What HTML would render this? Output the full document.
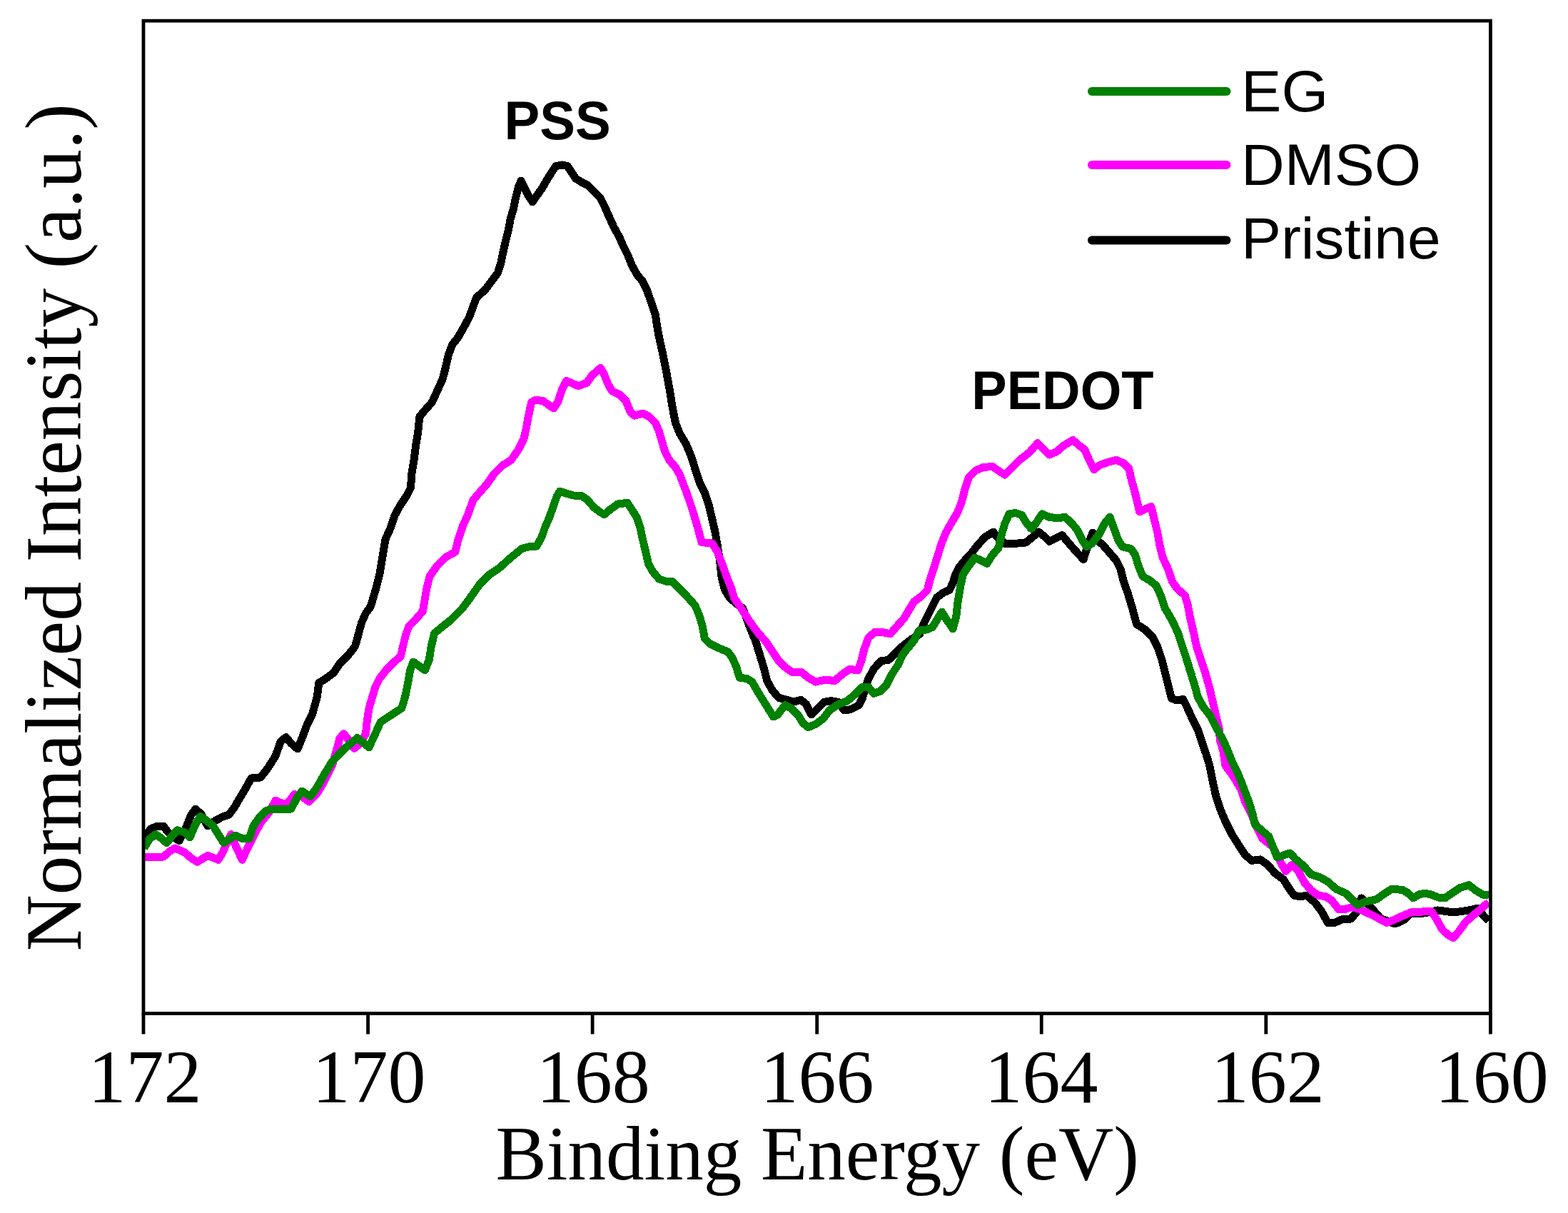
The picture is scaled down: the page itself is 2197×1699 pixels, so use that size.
<!DOCTYPE html>
<html><head><meta charset="utf-8"><title>XPS S 2p spectra</title>
<style>html,body{margin:0;padding:0;background:#fff;}svg{display:block;}</style>
</head><body>
<svg width="2197" height="1699" viewBox="0 0 2197 1699">
<rect x="0" y="0" width="2197" height="1699" fill="#fff"/>
<defs><clipPath id="pa"><rect x="201" y="29" width="1887.4" height="1390.5"/></clipPath></defs>
<g clip-path="url(#pa)" fill="none" stroke-linejoin="round" stroke-linecap="butt" stroke-width="11" shape-rendering="crispEdges">
<polyline stroke="#000" points="201.7,1173.0 211.3,1161.0 220.2,1157.0 229.0,1157.0 234.0,1164.0 242.0,1172.0 251.0,1177.6 261.6,1157.0 267.5,1142.0 274.0,1133.0 282.0,1140.6 291.0,1157.0 301.6,1149.5 312.0,1144.0 320.8,1141.0 328.0,1131.7 335.6,1118.4 344.5,1103.6 352.0,1090.0 365.0,1089.0 375.6,1075.5 386.0,1059.0 393.3,1038.5 400.7,1032.6 408.0,1041.4 417.0,1049.0 423.7,1032.6 430.3,1014.8 437.7,1000.0 444.4,975.8 446.7,956.6 456.3,950.6 468.0,941.8 475.5,930.0 488.8,916.6 497.7,904.8 502.2,888.5 506.6,872.2 512.5,858.9 519.2,850.0 526.6,825.0 531.8,804.3 536.3,777.6 540.0,755.4 547.4,739.1 553.3,721.4 560.7,708.0 569.6,694.7 575.5,682.9 577.0,662.2 580.0,644.4 582.9,622.2 585.8,604.4 587.8,583.9 593.7,576.5 605.5,563.1 612.9,546.9 620.3,530.6 624.8,512.8 628.5,496.5 633.6,483.2 642.5,471.4 650.0,458.0 657.3,444.7 663.3,428.4 667.7,416.6 679.5,406.2 688.4,394.4 697.3,382.6 701.7,369.2 704.8,354.0 707.8,340.6 712.2,322.9 715.2,306.6 719.6,291.8 722.6,277.0 726.3,262.2 730.0,253.3 734.4,262.2 740.3,274.0 746.2,282.9 752.2,274.0 759.6,263.6 765.5,253.3 772.9,241.4 778.8,232.6 787.7,231.0 795.1,232.6 801.0,241.4 806.9,250.3 814.3,254.8 823.2,259.2 832.1,268.1 841.0,277.0 846.9,288.8 852.8,302.1 860.2,318.4 867.6,331.7 873.5,345.0 879.5,356.9 885.4,371.7 892.8,385.0 900.2,393.9 906.1,405.7 912.0,422.0 918.0,439.8 922.9,469.6 928.8,496.2 934.0,522.9 938.4,546.6 942.1,570.3 946.5,592.5 952.5,607.3 961.3,622.0 968.7,639.8 974.7,659.0 980.6,676.8 987.4,690.0 993.3,707.8 997.8,727.0 1002.2,746.2 1005.2,764.0 1008.1,781.8 1011.1,808.4 1015.5,826.2 1022.9,838.0 1031.8,845.4 1040.7,852.0 1051.1,879.6 1058.5,897.4 1064.4,916.6 1070.3,935.8 1074.8,953.6 1082.2,967.0 1091.0,977.3 1102.9,980.3 1111.8,983.2 1122.1,980.3 1129.5,986.2 1136.9,1001.0 1145.8,992.1 1154.7,983.2 1165.0,981.7 1174.0,983.2 1182.8,995.0 1191.7,993.6 1203.5,987.7 1208.0,978.8 1212.4,964.0 1216.9,950.6 1224.3,937.0 1234.3,925.8 1245.0,924.3 1254.5,915.1 1264.0,905.6 1275.8,896.2 1288.8,887.9 1294.7,872.5 1300.7,860.7 1306.6,848.8 1312.5,837.0 1322.0,830.0 1330.3,826.3 1335.0,816.8 1338.5,805.0 1343.3,795.5 1351.8,785.0 1360.3,776.0 1369.5,764.0 1379.9,752.5 1391.7,745.1 1396.2,751.0 1408.0,761.3 1422.8,761.3 1437.6,759.9 1446.5,752.5 1455.4,745.1 1462.8,751.0 1470.2,758.4 1479.1,753.9 1488.0,749.5 1496.8,759.9 1505.7,770.2 1518.1,783.5 1524.0,765.0 1531.0,746.0 1538.8,758.0 1544.8,762.8 1555.1,774.7 1564.0,785.0 1570.0,796.9 1574.4,814.6 1580.3,830.9 1586.6,852.2 1592.6,874.4 1604.4,881.8 1614.8,892.2 1622.2,907.0 1628.1,924.7 1632.5,942.5 1637.0,960.3 1641.4,978.0 1648.8,981.0 1657.7,979.5 1663.6,991.3 1671.0,1007.6 1678.4,1022.4 1684.3,1040.2 1689.5,1055.0 1694.8,1072.2 1699.2,1094.4 1703.7,1115.1 1709.6,1132.9 1717.0,1150.7 1725.9,1168.4 1736.2,1184.7 1745.1,1198.0 1754.0,1205.4 1765.9,1203.9 1776.2,1211.3 1786.6,1223.2 1798.4,1232.0 1805.8,1243.9 1813.2,1254.3 1822.1,1255.7 1831.0,1254.3 1842.8,1264.6 1851.7,1276.5 1860.6,1292.7 1869.5,1292.7 1879.8,1288.0 1893.1,1287.0 1900.5,1278.0 1907.5,1258.0 1920.0,1270.0 1935.0,1287.0 1955.0,1294.0 1968.0,1288.0 1976.0,1280.0 1995.0,1279.0 2005.0,1277.0 2015.0,1275.0 2037.0,1278.0 2058.0,1275.0 2071.0,1272.0 2078.0,1282.0 2086.0,1290.0"/>
<polyline stroke="#ff00ff" points="201.7,1200.0 229.0,1200.0 238.0,1192.4 245.3,1188.0 258.6,1194.0 269.0,1202.8 276.4,1207.2 291.2,1198.3 306.0,1204.3 312.0,1194.0 319.3,1177.6 323.8,1168.7 329.7,1183.5 339.3,1204.3 347.5,1186.5 356.3,1168.7 365.2,1152.5 377.0,1137.7 386.0,1121.4 396.3,1125.8 403.7,1124.3 412.6,1112.5 423.0,1115.5 433.3,1122.9 443.7,1112.5 453.4,1096.0 465.3,1072.6 474.7,1039.4 475.5,1035.0 481.4,1027.6 487.4,1035.0 496.2,1048.3 503.6,1042.4 512.5,1027.6 514.0,1012.8 517.0,992.0 521.4,977.3 525.8,962.5 531.8,950.6 540.7,938.8 552.5,927.0 561.4,919.6 564.3,906.2 568.8,888.5 573.2,876.6 583.6,866.3 592.5,856.0 597.7,825.0 602.1,807.2 612.5,792.4 624.3,780.6 637.7,773.2 642.1,755.4 648.0,737.7 655.4,721.4 662.8,700.7 670.2,691.8 682.0,678.4 692.4,663.6 704.3,651.8 716.1,644.4 726.5,629.6 733.9,614.8 737.3,600.0 740.2,583.9 744.7,563.1 750.6,560.2 761.0,561.7 775.7,572.0 781.7,563.1 787.6,545.4 793.5,533.5 800.9,536.5 810.4,540.7 822.2,536.2 829.6,525.8 841.4,515.5 845.9,522.9 851.8,537.7 857.7,548.0 868.0,552.5 877.0,561.4 882.9,576.2 888.8,582.1 900.7,579.1 909.5,583.6 918.4,592.5 922.9,602.8 927.3,617.6 931.7,632.4 937.7,644.3 946.5,654.6 952.5,665.0 956.9,676.8 962.0,689.6 970.9,716.2 978.3,741.4 983.0,759.6 997.8,761.0 1005.2,772.9 1012.6,792.0 1018.5,808.4 1024.4,823.2 1028.8,838.0 1036.2,848.4 1049.6,869.2 1061.4,885.5 1073.3,898.8 1082.2,912.2 1091.0,925.5 1100.0,934.4 1110.3,941.8 1123.6,941.8 1132.5,949.2 1142.9,955.1 1156.2,952.1 1169.5,953.6 1179.9,944.7 1190.2,937.3 1202.0,938.8 1206.5,927.0 1211.0,909.2 1216.9,892.9 1225.7,885.5 1236.1,885.5 1247.4,887.9 1255.7,878.4 1266.3,866.6 1273.4,854.7 1280.5,842.9 1290.0,835.8 1299.5,826.3 1303.0,812.1 1307.8,797.9 1313.3,780.0 1319.2,761.3 1325.1,746.5 1332.5,733.2 1341.4,718.4 1347.3,703.6 1351.8,685.8 1357.7,668.1 1366.6,659.2 1376.9,654.8 1390.3,653.3 1399.1,659.2 1408.0,665.1 1416.9,656.2 1430.2,642.9 1442.0,634.0 1453.9,620.7 1462.8,629.6 1470.2,637.0 1480.5,632.6 1490.9,623.7 1503.3,616.3 1513.7,625.2 1519.6,629.6 1525.5,642.9 1532.9,657.7 1540.3,651.8 1552.2,647.4 1564.0,644.4 1574.4,648.8 1581.8,656.2 1584.7,669.6 1589.2,685.8 1593.6,703.6 1596.6,716.9 1605.5,712.5 1612.9,709.5 1617.3,727.3 1621.7,745.1 1624.7,762.8 1629.1,780.6 1636.5,796.9 1642.5,814.6 1649.9,825.0 1660.2,833.9 1663.6,844.8 1668.0,867.0 1672.5,886.2 1676.9,907.0 1682.9,924.7 1688.8,942.5 1694.7,963.2 1699.1,982.5 1703.6,1001.7 1708.0,1019.5 1709.5,1037.2 1713.9,1052.0 1717.0,1072.2 1728.8,1088.5 1739.2,1106.2 1745.1,1124.0 1754.0,1141.8 1762.9,1162.5 1768.8,1174.3 1783.6,1186.2 1795.5,1209.9 1801.4,1220.2 1810.3,1211.3 1819.1,1220.2 1828.0,1236.5 1836.9,1246.9 1847.3,1254.3 1857.6,1255.7 1866.5,1261.7 1875.4,1273.5 1884.3,1273.5 1894.6,1270.5 1906.5,1274.0 1918.8,1280.0 1930.4,1285.8 1942.9,1292.5 1952.5,1288.7 1965.0,1282.9 1976.5,1278.0 1991.0,1277.1 2005.4,1276.2 2013.0,1287.7 2020.8,1302.0 2029.4,1309.8 2036.2,1313.7 2043.8,1305.0 2053.5,1291.5 2063.0,1282.9 2072.7,1275.2 2082.3,1266.5 2086.0,1264.6"/>
<polyline stroke="#008000" points="201.7,1188.0 209.8,1174.7 218.0,1168.7 224.6,1173.0 233.5,1180.6 239.4,1173.0 248.3,1162.8 258.6,1165.8 266.0,1173.0 273.4,1155.4 280.8,1143.6 289.7,1149.5 298.6,1157.0 306.0,1168.7 313.4,1180.6 322.3,1174.7 329.7,1170.2 340.0,1174.7 349.0,1174.7 354.9,1157.0 362.3,1146.5 372.6,1136.0 380.0,1133.0 408.0,1133.0 415.5,1118.4 423.0,1108.0 434.8,1115.5 443.7,1103.6 454.8,1084.0 465.2,1067.0 483.0,1048.3 500.7,1033.5 517.0,1046.9 525.8,1027.6 533.3,1011.3 546.6,1002.5 562.9,992.0 567.3,977.3 571.7,956.6 574.7,938.8 579.1,927.0 595.4,938.8 601.3,924.0 604.3,904.8 608.7,887.0 617.6,879.6 632.4,867.8 648.0,852.0 661.3,833.9 671.7,819.0 686.5,804.3 699.8,795.4 714.6,782.0 730.9,768.7 740.0,766.0 751.8,765.1 759.2,751.8 763.7,738.4 769.6,725.1 775.5,708.8 780.0,695.5 784.4,688.1 793.3,691.1 803.6,694.0 814.0,694.0 822.9,700.0 831.8,710.3 839.2,716.2 846.6,720.7 855.5,713.3 865.8,705.9 879.1,704.4 885.0,713.3 892.5,725.1 896.9,738.4 899.9,753.3 904.3,771.0 908.7,790.3 914.7,800.6 923.5,811.0 932.4,814.0 941.3,814.0 950.2,822.8 962.0,834.7 973.9,848.0 979.8,862.0 984.4,878.0 987.4,894.3 994.8,901.7 1006.6,907.6 1020.0,913.0 1025.9,921.0 1031.8,934.4 1036.3,949.2 1046.6,950.6 1054.0,955.1 1061.4,968.4 1068.8,980.3 1076.2,992.1 1083.6,1004.0 1089.6,1001.0 1099.9,987.7 1108.8,992.1 1117.7,1001.0 1125.1,1012.8 1132.5,1018.7 1142.9,1014.3 1153.2,1006.9 1162.1,995.0 1175.4,986.2 1187.3,981.7 1197.6,972.9 1208.0,962.5 1216.9,962.5 1224.3,971.4 1233.1,968.4 1242.0,959.5 1249.4,944.7 1258.3,931.4 1264.2,918.1 1271.0,909.0 1280.5,897.4 1287.6,883.2 1298.3,882.0 1306.6,878.4 1313.7,866.6 1319.6,857.1 1325.5,866.6 1335.0,880.8 1339.7,864.2 1342.1,842.9 1345.6,821.6 1349.2,805.0 1356.3,794.0 1365.8,781.3 1372.9,784.0 1382.9,789.5 1390.3,777.6 1399.1,767.3 1403.6,748.0 1408.0,733.2 1413.9,719.9 1422.8,718.4 1431.7,721.4 1437.6,731.7 1445.0,740.6 1452.4,731.7 1459.8,719.9 1470.2,724.3 1482.0,725.8 1492.4,724.3 1501.8,733.2 1509.2,742.1 1516.6,756.9 1522.6,765.8 1530.0,761.3 1540.3,748.0 1547.7,733.2 1555.1,724.3 1561.0,740.6 1567.0,756.9 1572.9,765.8 1584.7,768.7 1590.7,777.6 1595.1,792.4 1601.0,807.2 1611.4,813.1 1620.3,820.5 1626.2,833.9 1632.5,852.2 1642.9,870.0 1650.3,886.2 1656.2,904.0 1662.1,921.8 1668.0,941.0 1674.0,960.3 1678.4,976.5 1685.8,989.9 1696.2,1003.2 1703.6,1018.0 1712.5,1034.3 1719.0,1048.0 1726.0,1066.0 1733.0,1080.0 1740.0,1097.0 1750.5,1125.0 1755.0,1140.0 1758.5,1155.0 1768.8,1164.0 1777.7,1171.4 1783.6,1186.2 1789.5,1201.0 1798.4,1198.0 1807.3,1195.0 1816.2,1204.0 1826.5,1212.8 1836.9,1224.7 1850.2,1229.1 1860.6,1235.0 1872.4,1245.4 1885.7,1251.3 1894.6,1260.2 1902.3,1267.5 1914.0,1262.7 1928.5,1259.8 1938.0,1253.0 1949.6,1245.4 1965.0,1246.3 1971.7,1250.2 1980.4,1257.9 1988.0,1253.0 1995.8,1251.2 2005.4,1253.0 2015.0,1257.0 2024.6,1257.9 2034.2,1251.2 2045.8,1243.5 2058.3,1239.6 2067.9,1247.3 2077.5,1253.0 2086.0,1254.0"/>
</g>
<g stroke="#000" stroke-width="4.8" fill="none">
<rect x="201.0" y="29.15" width="1887.40" height="1390.35" stroke-linejoin="miter"/>
<line x1="201.00" y1="1419.50" x2="201.00" y2="1448.5"/><line x1="515.57" y1="1419.50" x2="515.57" y2="1448.5"/><line x1="830.13" y1="1419.50" x2="830.13" y2="1448.5"/><line x1="1144.70" y1="1419.50" x2="1144.70" y2="1448.5"/><line x1="1459.27" y1="1419.50" x2="1459.27" y2="1448.5"/><line x1="1773.83" y1="1419.50" x2="1773.83" y2="1448.5"/><line x1="2088.40" y1="1419.50" x2="2088.40" y2="1448.5"/>
</g>
<g font-family="'Liberation Serif', serif" font-size="106" text-anchor="middle" fill="#000">
<text x="203.00" y="1544.3">172</text><text x="516.94" y="1544.3">170</text><text x="831.26" y="1544.3">168</text><text x="1145.10" y="1544.3">166</text><text x="1458.94" y="1544.3">164</text><text x="1776.26" y="1544.3">162</text><text x="2090.25" y="1544.3">160</text>
</g>
<text x="1145.1" y="1652" font-family="'Liberation Serif', serif" font-size="107" text-anchor="middle">Binding Energy (eV)</text>
<text transform="translate(113.3,738.85) rotate(-90) scale(1,1.02)" font-family="'Liberation Serif', serif" font-size="109.65" text-anchor="middle">Normalized Intensity (a.u.)</text>
<g stroke-width="12" stroke-linecap="round">
<line x1="1530" y1="128" x2="1718.5" y2="128" stroke="#008000"/>
<line x1="1530" y1="231" x2="1718.5" y2="231" stroke="#ff00ff"/>
<line x1="1530" y1="336.5" x2="1718.5" y2="336.5" stroke="#000"/>
</g>
<g font-family="'Liberation Sans', Arial, sans-serif" font-size="81.5" fill="#000">
<text transform="translate(1739,156.2) scale(1.038,1)">EG</text>
<text transform="translate(1739,259.4) scale(1.032,1)">DMSO</text>
<text transform="translate(1739,361.8) scale(1.029,1)">Pristine</text>
</g>
<g font-family="'Liberation Sans', Arial, sans-serif" font-size="74" font-weight="bold" fill="#000">
<text transform="translate(706.6,195.4) scale(1.008,1.025)">PSS</text>
<text transform="translate(1361.2,573.1) scale(1.002,1.025)">PEDOT</text>
</g>
</svg>
</body></html>
